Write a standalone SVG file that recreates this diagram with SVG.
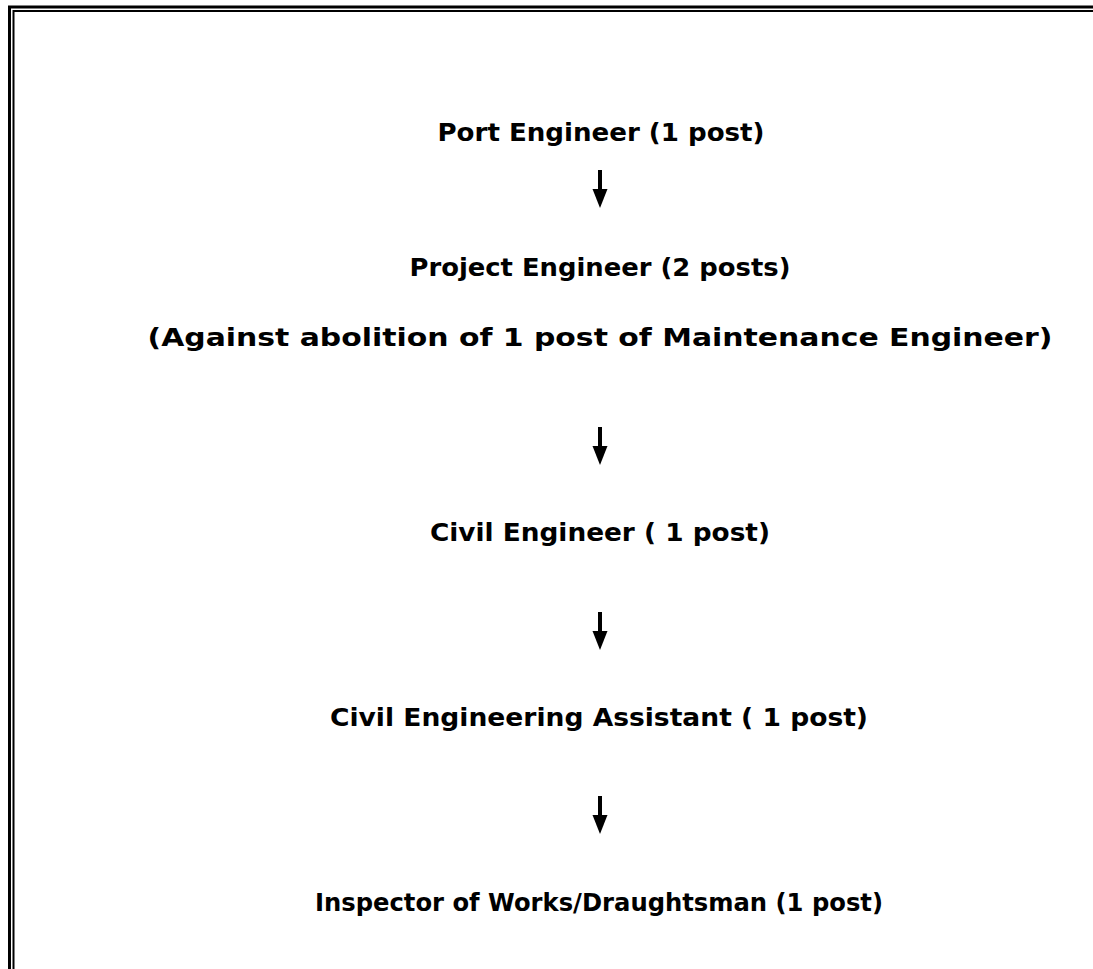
<svg xmlns="http://www.w3.org/2000/svg" width="1093" height="969" viewBox="0 0 1093 969">
<style>
.t{font-family:"DejaVu Sans","Liberation Sans",sans-serif;font-weight:bold;font-size:24px;fill:#000;text-anchor:middle}
.sh{fill:#000}
</style>
<defs>
<g id="arr"><rect x="-2" y="0" width="4" height="20" class="sh"/><polygon points="-7.5,19 7.5,19 0,38" class="sh"/></g>
</defs>
<rect width="1093" height="969" fill="#fff"/>
<g id="border" fill="none" stroke="#000">
<path d="M9.5,969 V7 H1093" stroke-width="3"/>
<path d="M13.5,969 V11 H1093" stroke-width="2"/>
</g>
<g id="n1"><text class="t" x="601" y="141" textLength="327" lengthAdjust="spacingAndGlyphs">Port Engineer (1 post)</text></g>
<g id="n2"><text class="t" x="600" y="276" textLength="381" lengthAdjust="spacingAndGlyphs">Project Engineer (2 posts)</text><text class="t" x="600" y="346" textLength="905" lengthAdjust="spacingAndGlyphs">(Against abolition of 1 post of Maintenance Engineer)</text></g>
<g id="n3"><text class="t" x="600" y="541" textLength="340" lengthAdjust="spacingAndGlyphs">Civil Engineer ( 1 post)</text></g>
<g id="n4"><text class="t" x="599" y="726" textLength="538" lengthAdjust="spacingAndGlyphs">Civil Engineering Assistant ( 1 post)</text></g>
<g id="n5"><text class="t" x="599" y="911" textLength="568" lengthAdjust="spacingAndGlyphs">Inspector of Works/Draughtsman (1 post)</text></g>
<g id="connectors">
<use href="#arr" x="600" y="170"/>
<use href="#arr" x="600" y="427"/>
<use href="#arr" x="600" y="612"/>
<use href="#arr" x="600" y="796"/>
</g>
</svg>
